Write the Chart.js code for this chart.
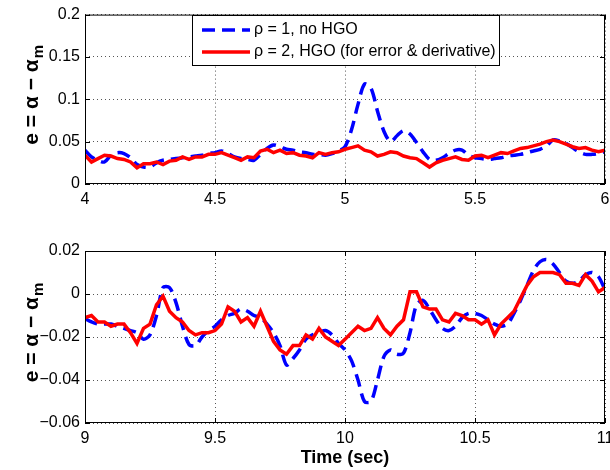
<!DOCTYPE html>
<html>
<head>
<meta charset="utf-8">
<script src="https://cdn.jsdelivr.net/npm/chart.js@4.4.0/dist/chart.umd.min.js"></script>
<style>
    html, body { margin: 0; padding: 0; background: #fff; overflow: hidden; width: 610px; height: 470px; }
    canvas { position: absolute; left: 0; }
    #top { top: 0; }
    #bottom { top: 230px; }
</style>
</head>
<body>
<canvas id="top" width="640" height="220"></canvas>
<canvas id="bottom" width="640" height="240"></canvas>
<script>
// ----------- Data ----------- //
const SERIES_LABELS = ['\u03c1 = 1, no HGO', '\u03c1 = 2, HGO (for error & derivative)'];

// sampled every 0.025 s
const TOP_START = 4;
const BOTTOM_START = 9;
const STEP = 0.025;

const topBlue = [
    0.040, 0.032, 0.028, 0.026, 0.034, 0.037, 0.036, 0.031, 0.023, 0.020,
    0.020, 0.025, 0.028, 0.029, 0.030, 0.031, 0.032, 0.033, 0.034, 0.036,
    0.037, 0.039, 0.036, 0.032, 0.030, 0.029, 0.028, 0.035, 0.042, 0.046,
    0.044, 0.041, 0.040, 0.038, 0.037, 0.035, 0.035, 0.034, 0.036, 0.039,
    0.044, 0.064, 0.094, 0.118, 0.113, 0.086, 0.062, 0.050, 0.057, 0.063,
    0.059, 0.049, 0.038, 0.029, 0.028, 0.031, 0.036, 0.040, 0.040, 0.034,
    0.031, 0.030, 0.029, 0.030, 0.031, 0.033, 0.034, 0.035, 0.037, 0.039,
    0.041, 0.045, 0.052, 0.051, 0.048, 0.043, 0.038, 0.035, 0.035, 0.036, 0.038
];
const topRed = [
    0.034, 0.026, 0.030, 0.034, 0.033, 0.030, 0.029, 0.026, 0.019, 0.024,
    0.024, 0.026, 0.023, 0.027, 0.028, 0.032, 0.029, 0.032, 0.032, 0.035,
    0.035, 0.037, 0.034, 0.031, 0.028, 0.032, 0.031, 0.039, 0.041, 0.037,
    0.040, 0.036, 0.037, 0.034, 0.033, 0.031, 0.037, 0.035, 0.037, 0.038,
    0.041, 0.043, 0.045, 0.040, 0.038, 0.033, 0.035, 0.038, 0.037, 0.033,
    0.031, 0.030, 0.025, 0.020, 0.025, 0.028, 0.030, 0.032, 0.029, 0.028,
    0.033, 0.034, 0.031, 0.034, 0.037, 0.036, 0.039, 0.042, 0.043, 0.045,
    0.047, 0.050, 0.052, 0.050, 0.047, 0.044, 0.042, 0.043, 0.040, 0.038, 0.040
];
const bottomBlue = [
    -0.0115, -0.013, -0.014, -0.014, -0.014, -0.015, -0.016, -0.017, -0.018, -0.021,
    -0.019, -0.010, 0.003, 0.003, -0.004, -0.015, -0.0235, -0.024, -0.020, -0.017,
    -0.015, -0.012, -0.010, -0.009, -0.007, -0.008, -0.010, -0.011, -0.014, -0.018,
    -0.024, -0.033, -0.030, -0.026, -0.021, -0.019, -0.018, -0.017, -0.019, -0.023,
    -0.026, -0.031, -0.040, -0.050, -0.050, -0.040, -0.029, -0.026, -0.028, -0.0275,
    -0.018, -0.005, -0.003, -0.007, -0.012, -0.016, -0.017, -0.015, -0.011, -0.009,
    -0.009, -0.010, -0.012, -0.014, -0.015, -0.014, -0.009, -0.003, 0.004, 0.011,
    0.015, 0.016, 0.014, 0.010, 0.006, 0.005, 0.006, 0.009, 0.010, 0.008, 0.002
];
const bottomRed = [
    -0.011, -0.010, -0.013, -0.013, -0.015, -0.014, -0.014, -0.018, -0.023, -0.016,
    -0.014, -0.005, -0.001, -0.008, -0.011, -0.013, -0.017, -0.019, -0.018, -0.018,
    -0.017, -0.014, -0.006, -0.008, -0.013, -0.011, -0.015, -0.008, -0.015, -0.022,
    -0.026, -0.028, -0.024, -0.024, -0.019, -0.021, -0.016, -0.020, -0.022, -0.024,
    -0.021, -0.018, -0.015, -0.017, -0.016, -0.011, -0.016, -0.019, -0.015, -0.012,
    0.001, 0.001, -0.006, -0.007, -0.007, -0.012, -0.013, -0.009, -0.010, -0.012,
    -0.012, -0.014, -0.012, -0.019, -0.014, -0.011, -0.008, -0.002, 0.004, 0.008,
    0.010, 0.010, 0.010, 0.009, 0.005, 0.005, 0.004, 0.009, 0.006, 0.001, 0.003
];

const topXTicks = ['4', '4.5', '5', '5.5', '6'];
const topYTicks = ['0', '0.05', '0.1', '0.15', '0.2'];
const bottomXTicks = ['9', '9.5', '10', '10.5', '11'];
const bottomYTicks = ['\u22120.06', '\u22120.04', '\u22120.02', '0', '0.02'];

// ----------- Look ----------- //
const FAMILY = "'Liberation Sans', Arial, Helvetica, sans-serif";
const BLUE = '#0000ff';
const RED = '#ff0000';

Chart.defaults.font.family = FAMILY;
Chart.defaults.font.size = 16;
Chart.defaults.color = '#000';

const toPoints = (start, values) => values.map((v, i) => ({ x: +(start + i * STEP).toFixed(3), y: v }));

const makeDatasets = (start, blue, red) => [
    {
        label: SERIES_LABELS[0], data: toPoints(start, blue),
        borderColor: BLUE, borderWidth: 3.5, borderDash: [13, 7],
        pointRadius: 0, tension: 0.3, order: 1
    },
    {
        label: SERIES_LABELS[1], data: toPoints(start, red),
        borderColor: RED, borderWidth: 3.5,
        pointRadius: 0, tension: 0, order: 0
    }
];

// draws the box, inward ticks, axis titles and legend (matlab style)
const framePlugin = {
    id: 'frame',
    afterDatasetsDraw(chart, args, opts) {
        const { ctx, chartArea: a, scales: { x, y } } = chart;
        ctx.save();
        ctx.strokeStyle = '#000';
        ctx.lineWidth = 1;
        ctx.setLineDash([]);
        ctx.beginPath();
        x.ticks.forEach(t => {
            const px = Math.round(x.getPixelForValue(t.value)) + 0.5;
            ctx.moveTo(px, a.bottom); ctx.lineTo(px, a.bottom - 5);
            ctx.moveTo(px, a.top); ctx.lineTo(px, a.top + 5);
        });
        y.ticks.forEach(t => {
            const py = Math.round(y.getPixelForValue(t.value)) + 0.5;
            ctx.moveTo(a.left, py); ctx.lineTo(a.left + 5, py);
            ctx.moveTo(a.right, py); ctx.lineTo(a.right - 5, py);
        });
        ctx.stroke();
        ctx.strokeRect(a.left + 0.5, a.top + 0.5, a.width - 1, a.height - 1);

        // y title with subscript
        ctx.save();
        ctx.translate(31, (a.top + a.bottom) / 2 - 4);
        ctx.rotate(-Math.PI / 2);
        ctx.fillStyle = '#000';
        ctx.textAlign = 'left';
        ctx.textBaseline = 'alphabetic';
        const main = 'e = \u03b1 \u2212 \u03b1', sub = 'm';
        ctx.font = 'bold 21px ' + FAMILY;
        const w1 = ctx.measureText(main).width;
        ctx.font = 'bold 15px ' + FAMILY;
        const w2 = ctx.measureText(sub).width;
        const x0 = -(w1 + w2) / 2;
        ctx.font = 'bold 21px ' + FAMILY;
        ctx.fillText(main, x0, 7);
        ctx.font = 'bold 15px ' + FAMILY;
        ctx.fillText(sub, x0 + w1 + 1, 12);
        ctx.restore();

        if (opts.xTitle) {
            ctx.fillStyle = '#000';
            ctx.font = 'bold 18px ' + FAMILY;
            ctx.textAlign = 'center';
            ctx.textBaseline = 'middle';
            ctx.fillText(opts.xTitle, (a.left + a.right) / 2, a.bottom + 35);
        }

        if (opts.legend) {
            const L = opts.legend;
            ctx.fillStyle = '#fff';
            ctx.fillRect(L.left, L.top, L.width, L.height);
            ctx.strokeRect(L.left + 0.5, L.top + 0.5, L.width, L.height);
            ctx.font = '16px ' + FAMILY;
            ctx.textAlign = 'left';
            ctx.textBaseline = 'middle';
            [0, 1].forEach(i => {
                const ds = chart.data.datasets[i];
                const ly = L.top + 15 + i * 22;
                ctx.beginPath();
                ctx.strokeStyle = ds.borderColor;
                ctx.lineWidth = ds.borderWidth;
                ctx.setLineDash(ds.borderDash || []);
                ctx.moveTo(L.left + 10, ly);
                ctx.lineTo(L.left + 58, ly);
                ctx.stroke();
                ctx.setLineDash([]);
                ctx.fillStyle = '#000';
                ctx.fillText(ds.label, L.left + 62, ly);
            });
        }
        ctx.restore();
    }
};

const makeChart = (id, cfg) => new Chart(document.getElementById(id), {
    type: 'line',
    data: { datasets: makeDatasets(cfg.start, cfg.blue, cfg.red) },
    plugins: [framePlugin],
    options: {
        responsive: false,
        animation: false,
        layout: { padding: { left: 0, right: 35, top: cfg.padTop, bottom: 0 } },
        plugins: {
            legend: { display: false },
            tooltip: { enabled: false },
            frame: { xTitle: cfg.xTitle, legend: cfg.legend }
        },
        scales: {
            x: {
                type: 'linear', min: cfg.xMin, max: cfg.xMax,
                afterFit: s => { s.height = cfg.xAxisHeight; },
                grid: { color: '#555', lineWidth: 1, drawTicks: false },
                border: { display: false, dash: [1, 3] },
                ticks: {
                    stepSize: 0.5, padding: 6, maxRotation: 0,
                    callback: (v, i) => cfg.xTicks[i]
                }
            },
            y: {
                min: cfg.yMin, max: cfg.yMax,
                afterFit: s => { s.width = 85; },
                grid: { color: '#555', lineWidth: 1, drawTicks: false },
                border: { display: false, dash: [1, 3] },
                ticks: {
                    stepSize: cfg.yStep, padding: 5,
                    callback: (v, i) => cfg.yTicks[i]
                }
            }
        }
    }
});

makeChart('top', {
    start: TOP_START, blue: topBlue, red: topRed,
    xMin: 4, xMax: 6, yMin: 0, yMax: 0.2, yStep: 0.05,
    xTicks: topXTicks, yTicks: topYTicks,
    padTop: 12, xAxisHeight: 36,
    legend: { left: 192, top: 15, width: 307, height: 50 }
});

makeChart('bottom', {
    start: BOTTOM_START, blue: bottomBlue, red: bottomRed,
    xMin: 9, xMax: 11, yMin: -0.06, yMax: 0.02, yStep: 0.02,
    xTicks: bottomXTicks, yTicks: bottomYTicks,
    padTop: 21, xAxisHeight: 47,
    xTitle: 'Time (sec)'
});
</script>
</body>
</html>
